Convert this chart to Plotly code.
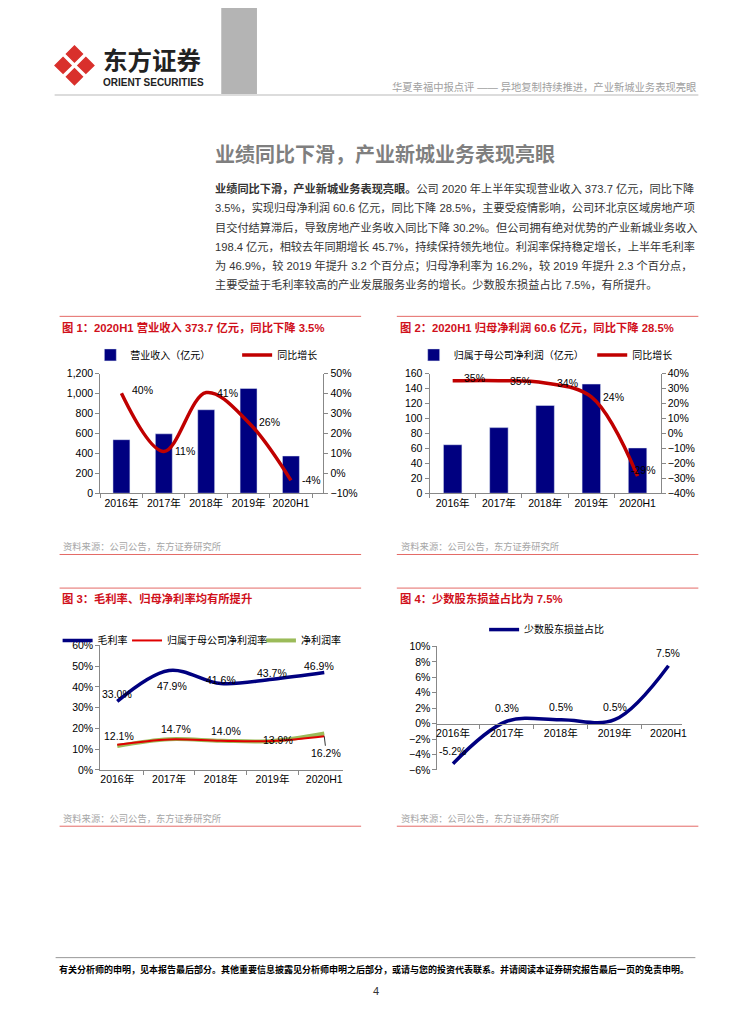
import plotly.graph_objects as go

# ---------------- data ----------------
years = ["2016年", "2017年", "2018年", "2019年", "2020H1"]
revenue = [537.5, 596.4, 838.0, 1052.1, 373.7]          # 营业收入（亿元）
revenue_yoy = [40.2, 11.0, 40.52, 25.55, -3.52]          # 同比增长 %
net_profit = [64.9, 87.8, 117.5, 146.1, 60.6]           # 归属于母公司净利润（亿元）
net_profit_yoy = [35.2, 35.3, 33.8, 24.4, -28.54]        # 同比增长 %
gross_margin = [33.0, 47.9, 41.6, 43.7, 46.9]           # 毛利率 %
parent_net_margin = [12.1, 14.7, 14.0, 13.9, 16.2]      # 归属于母公司净利润率 %
net_margin = [11.5, 14.75, 14.05, 13.95, 17.5]          # 净利润率 %
minority_share = [-5.2, 0.3, 0.5, 0.5, 7.5]             # 少数股东损益占比 %

# ---------------- helpers ----------------
OFF = 8                      # default page body margin
W, H = 755 - 2 * OFF, 1024 - 2 * OFF
def X(p): return (p - OFF) / W
def Y(p): return 1 - (p - OFF) / H

FONT = "Liberation Sans, Noto Sans CJK SC, sans-serif"
NAVY = "#000080"
RED = "#C00000"
GREEN = "#9BBB59"
AX = "#888888"
TITLE_RED = "#D0101B"
SEP = "#E46A66"

fig = go.Figure()

# ---- chart 1 ----
fig.add_bar(x=years, y=revenue, xaxis="x", yaxis="y", marker_color=NAVY, width=0.4,
            name="营业收入（亿元）", legend="legend", showlegend=True)
fig.add_scatter(x=years, y=revenue_yoy, xaxis="x", yaxis="y2", mode="lines",
                line=dict(color=RED, width=3.5, shape="spline"), name="同比增长",
                legend="legend2", showlegend=True)
# ---- chart 2 ----
fig.add_bar(x=years, y=net_profit, xaxis="x2", yaxis="y3", marker_color=NAVY, width=0.4,
            name="归属于母公司净利润（亿元）", legend="legend3", showlegend=True)
fig.add_scatter(x=years, y=net_profit_yoy, xaxis="x2", yaxis="y4", mode="lines",
                line=dict(color=RED, width=3.5, shape="spline"), name="同比增长",
                legend="legend4", showlegend=True)
# ---- chart 3 ----
fig.add_scatter(x=years, y=gross_margin, xaxis="x3", yaxis="y5", mode="lines",
                line=dict(color=NAVY, width=3.5, shape="spline"), name="毛利率",
                legend="legend5", showlegend=True)
fig.add_scatter(x=years, y=net_margin, xaxis="x3", yaxis="y5", mode="lines",
                line=dict(color=GREEN, width=4, shape="spline"), name="净利润率",
                legend="legend7", showlegend=True)
fig.add_scatter(x=years, y=parent_net_margin, xaxis="x3", yaxis="y5", mode="lines",
                line=dict(color="#E00000", width=2, shape="spline"), name="归属于母公司净利润率",
                legend="legend6", showlegend=True)
# ---- chart 4 ----
fig.add_scatter(x=years, y=minority_share, xaxis="x4", yaxis="y6", mode="lines",
                line=dict(color=NAVY, width=3.5, shape="spline"), name="少数股东损益占比",
                legend="legend8", showlegend=True)

tickfont = dict(size=10.5, color="#000", family=FONT)
def xax(d0, d1, anchor, **kw):
    base = dict(domain=[X(d0), X(d1)], anchor=anchor, type="category", showline=True,
                linecolor=AX, linewidth=1, ticks="outside", tickson="boundaries", ticklen=4,
                tickcolor=AX, showgrid=False, zeroline=False, tickfont=tickfont, tickangle=0,
                fixedrange=True)
    base.update(kw)
    return base
def yax(rng, dtick, **kw):
    base = dict(range=rng, dtick=dtick, showline=True, linecolor=AX, linewidth=1,
                ticks="outside", ticklen=4, tickcolor=AX, showgrid=False, zeroline=False,
                tickfont=tickfont, fixedrange=True)
    base.update(kw)
    return base

c4_range = [-6, 10]
c4_dom = [Y(773), Y(648)]
c4_xpos = c4_dom[0] + (0 - c4_range[0]) / (c4_range[1] - c4_range[0]) * (c4_dom[1] - c4_dom[0])

fig.update_layout(
    width=W, height=H, margin=dict(l=0, r=0, t=0, b=0),
    paper_bgcolor="white", plot_bgcolor="white", showlegend=True,
    font=dict(family=FONT, size=10.5, color="#000"),
    xaxis=xax(100, 325, "y"),
    yaxis=yax([0, 1200], 200, domain=[Y(493), Y(372)], anchor="x", tickformat=",d"),
    yaxis2=yax([-10, 50], 10, overlaying="y", side="right", anchor="x", ticksuffix="%"),
    xaxis2=xax(432, 665, "y3"),
    yaxis3=yax([0, 160], 20, domain=[Y(493), Y(372)], anchor="x2"),
    yaxis4=yax([-40, 40], 10, overlaying="y3", side="right", anchor="x2", ticksuffix="%"),
    xaxis3=xax(100, 345, "y5"),
    yaxis5=yax([0, 60], 10, domain=[Y(773), Y(647)], anchor="x3", ticksuffix="%"),
    xaxis4=xax(440, 687, "free", position=c4_xpos),
    yaxis6=yax(c4_range, 2, domain=c4_dom, anchor="x4", ticksuffix="%"),
)

# legends, one per entry
def leg(text_x, cy):
    return dict(x=X(text_x - 45), y=Y(cy), xanchor="left", yanchor="middle", orientation="h",
                bgcolor="rgba(0,0,0,0)", font=dict(size=10, family=FONT, color="#000"),
                itemwidth=30, visible=True)
fig.update_layout(
    legend=leg(135, 353), legend2=leg(283, 353),
    legend3=leg(461, 353), legend4=leg(641, 353),
    legend5=leg(102, 642), legend6=leg(172, 642), legend7=leg(307, 642),
    legend8=leg(532, 631),
)

anns = []
def lab(xr, yr, cat, val, txt, xs=0, ys=0, **kw):
    d = dict(xref=xr, yref=yr, x=cat, y=val, text=txt, showarrow=False, xshift=xs, yshift=ys,
             font=dict(size=10.5, color="#000", family=FONT))
    d.update(kw)
    anns.append(d)

# chart 1 labels
for c, v in zip(years, revenue_yoy):
    lab("x", "y2", c, v, f"{round(v):d}%", xs=21, ys=(3 if c == years[0] else 0))
# chart 2 labels
for i, (c, v) in enumerate(zip(years, net_profit_yoy)):
    if i < 4:
        lab("x2", "y4", c, v, f"{round(v):d}%", xs=22, ys=(3 if i == 0 else 0))
    else:
        lab("x2", "y4", c, v, f"{round(v):d}%", xs=6, ys=6)
# chart 3 labels
gm_shift = [(0, 7), (3, -15), (0, 4), (-1, 6), (-5, 7)]
for c, v, (xs, ys) in zip(years, gross_margin, gm_shift):
    lab("x3", "y5", c, v, f"{v:.1f}%", xs=xs, ys=ys)
pm_shift = [(2, 9), (7, 10), (5, 10), (5, 1)]
for c, v, (xs, ys) in zip(years[:4], parent_net_margin[:4], pm_shift):
    lab("x3", "y5", c, v, f"{v:.1f}%", xs=xs, ys=ys)
lab("x3", "y5", years[4], parent_net_margin[4], f"{parent_net_margin[4]:.1f}%",
    showarrow=True, arrowhead=0, arrowwidth=0.8, arrowcolor="#000", ax=2, ay=17, standoff=0)
# chart 4 labels
for c, v in zip(years, minority_share):
    lab("x4", "y6", c, v, f"{v:.1f}%", ys=13)

def ptxt(x, y, text, size, color="#333", xanchor="left", bold=False, family=FONT):
    anns.append(dict(xref="paper", yref="paper", x=X(x), y=Y(y), text=(f"<b>{text}</b>" if bold else text),
                     showarrow=False, xanchor=xanchor, yanchor="middle",
                     font=dict(size=size, color=color, family=family)))

# header
ptxt(101, 54, "东方证券", 24.5, color="#222", bold=True, family="Noto Sans CJK SC")
ptxt(101, 77, "ORIENT SECURITIES", 10, color="#222", bold=True, family="Liberation Sans")
ptxt(703, 82, "华夏幸福中报点评 —— 异地复制持续推进，产业新城业务表现亮眼", 10.3, color="#a0a0a0",
     xanchor="right")

# heading and paragraph
ptxt(214, 149, "业绩同比下滑，产业新城业务表现亮眼", 20, color="#7f7f7f", bold=True,
     family="Noto Sans CJK SC")
para = [
    "<b>业绩同比下滑，产业新城业务表现亮眼。</b>公司 2020 年上半年实现营业收入 373.7 亿元，同比下降",
    "3.5%，实现归母净利润 60.6 亿元，同比下降 28.5%，主要受疫情影响，公司环北京区域房地产项",
    "目交付结算滞后，导致房地产业务收入同比下降 30.2%。但公司拥有绝对优势的产业新城业务收入",
    "198.4 亿元，相较去年同期增长 45.7%，持续保持领先地位。利润率保持稳定增长，上半年毛利率",
    "为 46.9%，较 2019 年提升 3.2 个百分点；归母净利率为 16.2%，较 2019 年提升 2.3 个百分点，",
    "主要受益于毛利率较高的产业发展服务业务的增长。少数股东损益占比 7.5%，有所提升。",
]
for i, line in enumerate(para):
    ptxt(214, 185 + i * 19.3, line, 11.2, color="#333")

# chart titles / sources
titles = [
    (59, 325, "图 1：2020H1 营业收入 373.7 亿元，同比下降 3.5%"),
    (400, 325, "图 2：2020H1 归母净利润 60.6 亿元，同比下降 28.5%"),
    (59, 600, "图 3：毛利率、归母净利率均有所提升"),
    (400, 600, "图 4：少数股东损益占比为 7.5%"),
]
for x, y, t in titles:
    ptxt(x, y, t, 11.3, color=TITLE_RED, bold=True)
for x in (60, 401):
    ptxt(x, 547, "资料来源：公司公告，东方证券研究所", 9.3, color="#a6a6a6")
    ptxt(x, 822, "资料来源：公司公告，东方证券研究所", 9.3, color="#a6a6a6")

# footer
ptxt(56, 975, "有关分析师的申明，见本报告最后部分。其他重要信息披露见分析师申明之后部分，或请与您的投资代表联系。并请阅读本证券研究报告最后一页的免责申明。",
     9, color="#000", bold=True)
ptxt(378, 997, "4", 11, color="#333", xanchor="center")

fig.update_layout(annotations=anns)

# shapes
shapes = []
def pline(x0, y0, x1, y1, color, width):
    shapes.append(dict(type="line", xref="paper", yref="paper", x0=X(x0), y0=Y(y0), x1=X(x1),
                       y1=Y(y1), line=dict(color=color, width=width)))
def prect(x0, y0, x1, y1, color):
    shapes.append(dict(type="rect", xref="paper", yref="paper", x0=X(x0), y0=Y(y0), x1=X(x1),
                       y1=Y(y1), fillcolor=color, line=dict(width=0), layer="below"))
prect(222, 0, 258, 89, "#b4b4b4")
pline(54, 90, 703, 90, "#dcdcdc", 2)
for x0, x1 in ((59, 363), (399, 703)):
    pline(x0, 314, x1, 314, SEP, 1)
    pline(x0, 555, x1, 555, SEP, 1)
    pline(x0, 589, x1, 589, SEP, 1)
    pline(x0, 830, x1, 830, SEP, 1)
pline(55, 963, 700, 963, "#999999", 1)

# logo: four red diamonds separated by a white X
cx, cy, off, r = 74, 60, 11.5, 8
def diamond(xc, yc):
    pts = [(xc, yc - r), (xc + r, yc), (xc, yc + r), (xc - r, yc)]
    path = "M " + " L ".join(f"{X(a):.5f},{Y(b):.5f}" for a, b in pts) + " Z"
    shapes.append(dict(type="path", xref="paper", yref="paper", path=path,
                       fillcolor="#D9302C", line=dict(color="#D9302C", width=1.5)))
for dx, dy in ((0, -off), (off, 0), (0, off), (-off, 0)):
    diamond(cx + dx, cy + dy)

fig.update_layout(shapes=shapes)
fig.write_html("out.html")
